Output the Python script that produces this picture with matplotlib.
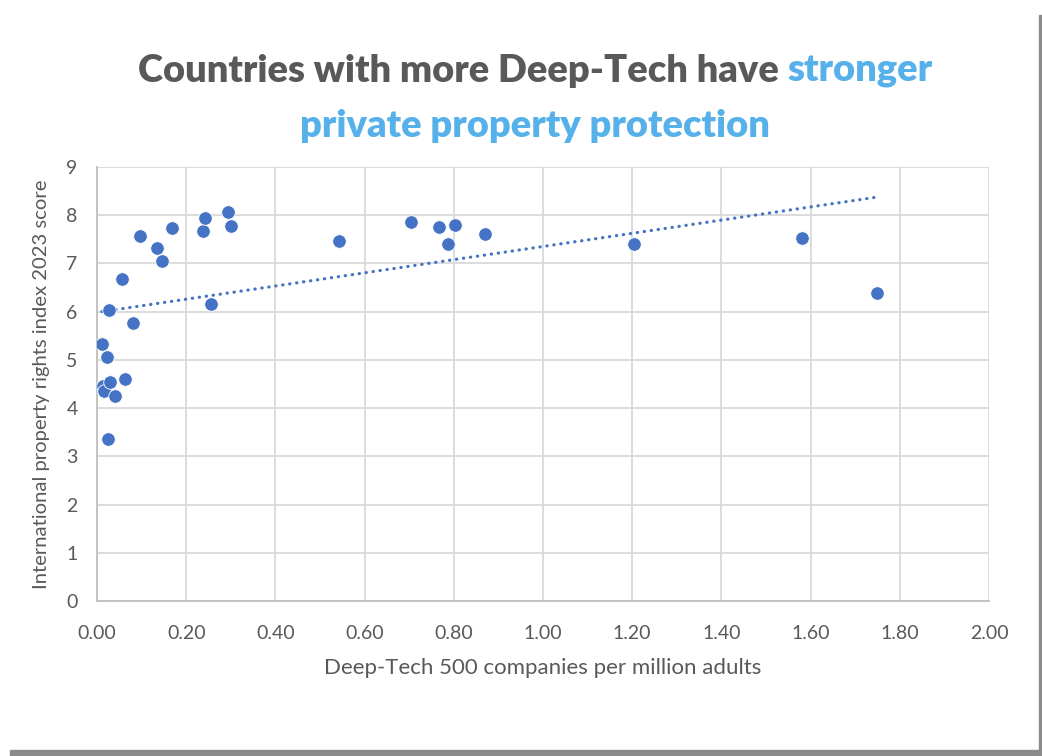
import numpy as np
import matplotlib
matplotlib.use("Agg")
import matplotlib.pyplot as plt
from matplotlib.patches import Rectangle

# deep-tech 500 companies per million adults vs property rights index 2023
deep_tech = [0.011, 0.022, 0.027, 0.013, 0.016, 0.029, 0.040, 0.025, 0.062,
             0.055, 0.081, 0.096, 0.135, 0.146, 0.168, 0.238, 0.242, 0.256,
             0.294, 0.300, 0.543, 0.704, 0.767, 0.787, 0.803, 0.870, 1.205,
             1.581, 1.749]
ipri = [5.33, 5.06, 6.03, 4.46, 4.35, 4.55, 4.26, 3.36, 4.60,
        6.68, 5.77, 7.57, 7.33, 7.05, 7.74, 7.67, 7.95, 6.15,
        8.07, 7.78, 7.47, 7.85, 7.76, 7.41, 7.80, 7.61, 7.41,
        7.52, 6.38]

xticks = np.arange(0, 2.01, 0.2)
yticks = np.arange(0, 10, 1)

dot_col = "#4472c4"
grid_col = "#d9d9d9"
txt_col = "#595959"

fig = plt.figure(figsize=(10.42, 7.56), dpi=100)

# card shadow at right / bottom edges
fig.patches.append(Rectangle((1039 / 1042, 0), 3 / 1042, 1 - 15 / 756,
                             transform=fig.transFigure, color="#8a8a8a", zorder=0))
fig.patches.append(Rectangle((10 / 1042, 0), 1, 6 / 756,
                             transform=fig.transFigure, color="#8a8a8a", zorder=0))

ax = fig.add_axes([97 / 1042, 1 - 601 / 756, 892 / 1042, 434 / 756])
ax.scatter(deep_tech, ipri, s=95, color=dot_col, edgecolors="white",
           linewidths=0.6, zorder=3)

# linear trendline (dotted), like the spreadsheet one
x = np.array(deep_tech)
m, b = np.polyfit(x, ipri, 1)
xs = np.array([x.min(), x.max()])
ax.plot(xs, m * xs + b, linestyle=(0, (0.1, 2.1)), color=dot_col, lw=2.3,
        dash_capstyle="round", zorder=2)

ax.set_xlim(0, 2.0)
ax.set_ylim(0, 9)
ax.set_xticks(xticks)
ax.set_xticklabels([f"{t:.2f}" for t in xticks])
ax.set_yticks(yticks)
ax.grid(True, color=grid_col, lw=1.3)
ax.set_axisbelow(True)
for side in ["top", "right"]:
    ax.spines[side].set_visible(False)
for side in ["left", "bottom"]:
    ax.spines[side].set_color("#bfbfbf")
    ax.spines[side].set_linewidth(1.3)
ax.tick_params(length=0, labelsize=14, labelcolor=txt_col)
ax.tick_params(axis="x", pad=17)
ax.tick_params(axis="y", pad=14)
for lab in ax.get_xticklabels() + ax.get_yticklabels():
    lab.set_family("Lato")

ax.set_xlabel("Deep-Tech 500 companies per million adults", fontsize=16,
              color=txt_col, family="Lato", labelpad=12)
ax.set_ylabel("International property rights index 2023 score", fontsize=14.6,
              color=txt_col, family="Lato", labelpad=12)

# two-colour title
fs = 27.4
part1 = "Countries with more Deep-Tech have "
part2 = "stronger"
blue = "#56b0ea"
r = fig.canvas.get_renderer()
t1 = fig.text(0, 0, part1, fontsize=fs, weight="heavy", family="Lato")
t2 = fig.text(0, 0, part2, fontsize=fs, weight="heavy", family="Lato")
w1 = t1.get_window_extent(r).width
w2 = t2.get_window_extent(r).width
cx = 535
x0 = cx - (w1 + w2) / 2
y1 = 1 - 82 / 756
t1.set_position((x0 / 1042, y1))
t1.set_color(txt_col)
t2.set_position(((x0 + w1) / 1042, y1))
t2.set_color(blue)
fig.text(cx / 1042, 1 - 137 / 756, "private property protection", fontsize=fs,
         weight="heavy", family="Lato", color=blue, ha="center")

fig.savefig("out.png", dpi=100, facecolor="white")
